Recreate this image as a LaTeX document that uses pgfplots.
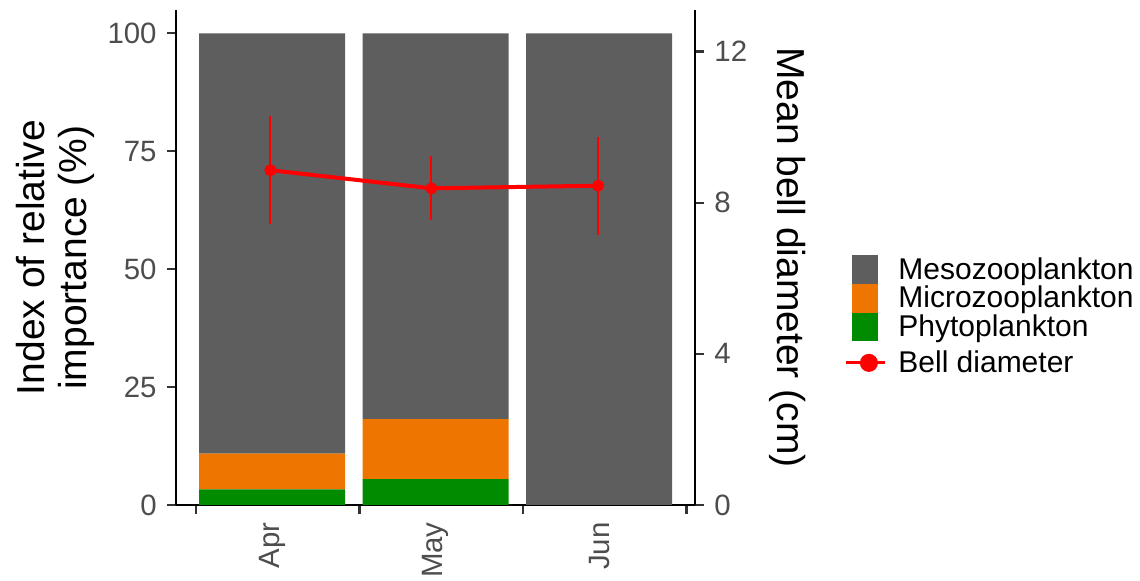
\documentclass[border=0pt]{standalone}
\usepackage{pgfplots}
\pgfplotsset{compat=1.18}
\usepackage{fontspec}
\setmainfont{Liberation Sans}
\definecolor{meso}{HTML}{5E5E5E}
\definecolor{micro}{HTML}{EE7600}
\definecolor{phyto}{HTML}{008B00}
\definecolor{tickgray}{HTML}{333333}
\definecolor{labgray}{HTML}{4D4D4D}
\pgfplotsset{
  common/.style={
    scale only axis, width=259.5pt, height=247.5pt,
    at={(88pt,38pt)}, anchor=south west,
    xmin=0.4128, xmax=3.587,
    axis line style={line width=1.25pt, black, -},
    tick align=outside, major tick length=4.5pt,
    tick style={line width=1.1pt, tickgray},
    tick label style={font=\fontsize{14.7}{17}\selectfont, text=labgray},
    /pgf/number format/assume math mode=true,
    label style={font=\fontsize{19.5}{21}\selectfont, text=black},
    clip=false,
  }
}
\begin{document}
\begin{tikzpicture}
\useasboundingbox (0,0) rectangle (570pt,290.5pt);
\begin{axis}[common,
  axis x line*=bottom, axis y line*=left,
  ymin=0, ymax=104.94,
  ytick={0,25,50,75,100},
  yticklabel style={anchor=east, inner sep=0pt, xshift=-5pt},
  xtick={0.535,1.535,2.535,3.535}, xticklabels={},
  extra x ticks={1,2,3}, extra x tick labels={Apr,May,Jun},
  extra x tick style={major tick length=0pt, grid=none},
  xticklabel style={rotate=90, anchor=east, inner xsep=8.5pt, inner ysep=0pt},
  ylabel={Index of relative\\importance (\%)},
  ylabel style={align=center, at={(axis description cs:-0.2331,0.5)}, anchor=center},
  ybar stacked, bar width=0.893,
]
\addplot[fill=phyto, draw=none] coordinates {(1,3.3) (2,5.5) (3,0)};
\addplot[fill=micro, draw=none] coordinates {(1,7.6) (2,12.7) (3,0)};
\addplot[fill=meso, draw=none] coordinates {(1,89.1) (2,81.8) (3,100)};
\end{axis}
\begin{axis}[common,
  axis x line=none, axis y line*=right,
  ymin=0, ymax=13.10, ytick={0,4,8,12},
  yticklabel style={anchor=west, inner sep=0pt, xshift=5pt},
  ylabel={Mean bell diameter (cm)},
  ylabel style={rotate=180, at={(axis description cs:1.179,0.5)}, anchor=center},
  legend cell align=left,
  legend style={draw=none, fill=none, inner sep=0pt, row sep=0pt, column sep=6pt,
    at={(1.2871,0.5051)}, anchor=north west,
    nodes={inner sep=0pt, text height=11.65pt, text depth=2.35pt, font=\fontsize{15}{17}\selectfont}},
]
\addlegendimage{legend image code/.code={\fill[meso] (3pt,-6.9pt) rectangle (15.5pt,7pt);}}
\addlegendentry{Mesozooplankton}
\addlegendimage{legend image code/.code={\fill[micro] (3pt,-6.9pt) rectangle (15.5pt,7pt);}}
\addlegendentry{Microzooplankton}
\addlegendimage{legend image code/.code={\fill[phyto] (3pt,-6.9pt) rectangle (15.5pt,7pt);}}
\addlegendentry{Phytoplankton}
\addplot[red, line width=2pt, mark=*, mark size=2.5pt, mark options={line width=1pt, solid},
  legend image code/.code={\draw[red, line width=1.5pt] (0pt,-1.925pt) -- (19.5pt,-1.925pt); \fill[red] (11.5pt,-1.925pt) circle (3.5pt);},
  error bars/.cd, y dir=both, y explicit, error mark=none,
  error bar style={line width=1pt, red}]
  coordinates {(0.99,8.86) +- (0,1.43) (1.975,8.38) +- (0,0.85) (2.994,8.45) +- (0,1.30)};
\addlegendentry[text height=15.5pt]{Bell diameter}
\end{axis}
\end{tikzpicture}
\end{document}
